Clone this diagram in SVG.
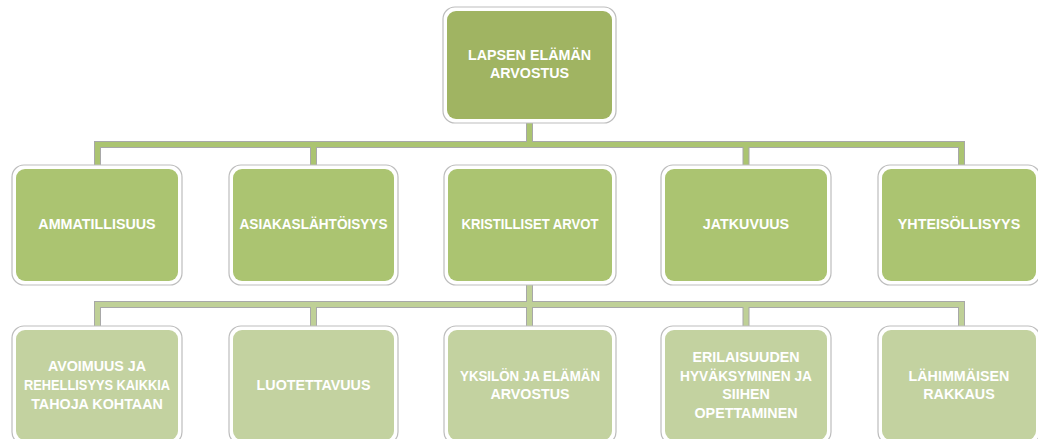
<svg xmlns="http://www.w3.org/2000/svg" width="1038" height="439" viewBox="0 0 1038 439">
<style>
.frame{fill:#ffffff;stroke:#bdbdbd;stroke-width:1.2}
.l1{fill:#a0b462}
.l2{fill:#abc471}
.l3{fill:#c3d2a0}
.t{font-family:"Liberation Sans",Arial,sans-serif;font-weight:bold;font-size:14.3px;fill:#ffffff;text-anchor:middle}
.cg{fill:none;stroke:#a8a8a8;stroke-width:7;stroke-linejoin:miter}
.c2{fill:none;stroke:#abc471;stroke-width:5;stroke-linejoin:miter}
.c3{fill:none;stroke:#bfd097;stroke-width:5;stroke-linejoin:miter}
</style>
<rect width="1038" height="439" fill="#ffffff"/>
<g id="connectors">
<path class="cg" d="M529.5,122V144.5M97.5,166V144.5H961.5V166M313.5,144.5V166M746,144.5V166"/>
<path class="cg" d="M529.5,284V304.5M97.5,327V304.5H961.5V327M313.5,304.5V327M746,304.5V327M529.5,304.5V327"/>
<path class="c2" d="M529.5,121V144.5M97.5,166V144.5H961.5V166M313.5,144.5V166M746,144.5V166"/>
<path class="c3" d="M529.5,283V304.5M97.5,327V304.5H961.5V327M313.5,304.5V327M746,304.5V327M529.5,304.5V327"/>
</g>
<g id="n-top">
<rect class="frame" x="443" y="7" width="173" height="116" rx="12"/>
<rect class="l1" x="447" y="11" width="165" height="108" rx="9"/>
<text class="t" x="529.5" y="60">LAPSEN ELÄMÄN</text>
<text class="t" x="529.5" y="78">ARVOSTUS</text>
</g>
<g id="n-ammatillisuus">
<rect class="frame" x="12" y="165" width="170" height="120" rx="12"/>
<rect class="l2" x="16" y="169" width="162" height="112" rx="9"/>
<text class="t" x="97" y="229">AMMATILLISUUS</text>
</g>
<g id="n-asiakas">
<rect class="frame" x="229" y="165" width="169" height="120" rx="12"/>
<rect class="l2" x="233" y="169" width="161" height="112" rx="9"/>
<text class="t" x="313.5" y="229" textLength="148" lengthAdjust="spacingAndGlyphs">ASIAKASLÄHTÖISYYS</text>
</g>
<g id="n-kristilliset">
<rect class="frame" x="444" y="165" width="172" height="120" rx="12"/>
<rect class="l2" x="448" y="169" width="164" height="112" rx="9"/>
<text class="t" x="530" y="229" textLength="137" lengthAdjust="spacingAndGlyphs">KRISTILLISET ARVOT</text>
</g>
<g id="n-jatkuvuus">
<rect class="frame" x="661" y="165" width="170" height="120" rx="12"/>
<rect class="l2" x="665" y="169" width="162" height="112" rx="9"/>
<text class="t" x="746" y="229">JATKUVUUS</text>
</g>
<g id="n-yhteisollisyys">
<rect class="frame" x="878" y="165" width="162" height="120" rx="12"/>
<rect class="l2" x="882" y="169" width="154" height="112" rx="9"/>
<text class="t" x="959" y="229">YHTEISÖLLISYYS</text>
</g>
<g id="n-avoimuus">
<rect class="frame" x="12" y="326" width="170" height="118" rx="12"/>
<rect class="l3" x="16" y="330" width="162" height="110" rx="9"/>
<text class="t" x="97" y="371">AVOIMUUS JA</text>
<text class="t" x="97" y="390" textLength="146" lengthAdjust="spacingAndGlyphs">REHELLISYYS KAIKKIA</text>
<text class="t" x="97" y="408.5">TAHOJA KOHTAAN</text>
</g>
<g id="n-luotettavuus">
<rect class="frame" x="229" y="326" width="169" height="118" rx="12"/>
<rect class="l3" x="233" y="330" width="161" height="110" rx="9"/>
<text class="t" x="313.5" y="390">LUOTETTAVUUS</text>
</g>
<g id="n-yksilon">
<rect class="frame" x="444" y="326" width="172" height="118" rx="12"/>
<rect class="l3" x="448" y="330" width="164" height="110" rx="9"/>
<text class="t" x="530" y="380.5" textLength="140" lengthAdjust="spacingAndGlyphs">YKSILÖN JA ELÄMÄN</text>
<text class="t" x="530" y="399">ARVOSTUS</text>
</g>
<g id="n-erilaisuuden">
<rect class="frame" x="661" y="326" width="170" height="118" rx="12"/>
<rect class="l3" x="665" y="330" width="162" height="110" rx="9"/>
<text class="t" x="746" y="362">ERILAISUUDEN</text>
<text class="t" x="746" y="380.5" textLength="132" lengthAdjust="spacingAndGlyphs">HYVÄKSYMINEN JA</text>
<text class="t" x="746" y="399">SIIHEN</text>
<text class="t" x="746" y="417.5">OPETTAMINEN</text>
</g>
<g id="n-lahimmaisen">
<rect class="frame" x="878" y="326" width="162" height="118" rx="12"/>
<rect class="l3" x="882" y="330" width="154" height="110" rx="9"/>
<text class="t" x="959" y="380.5">LÄHIMMÄISEN</text>
<text class="t" x="959" y="399">RAKKAUS</text>
</g>
</svg>
